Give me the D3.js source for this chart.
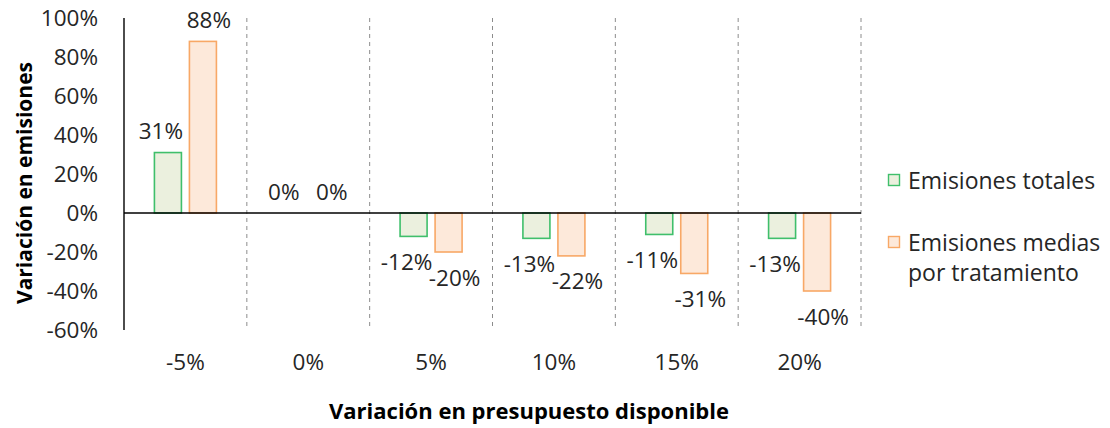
<!DOCTYPE html>
<html>
<head>
<meta charset="utf-8">
<script src="https://cdn.jsdelivr.net/npm/d3@7/dist/d3.min.js"></script>
<style>
  html, body { margin: 0; padding: 0; background: #fff; }
  svg { display: block; font-family: "Open Sans", "Noto Sans", sans-serif; }
</style>
</head>
<body>
<svg id="chart" width="1110" height="428"></svg>
<script>
// Budget variation scenarios (x categories)
const categories = ["-5%", "0%", "5%", "10%", "15%", "20%"];
// Change in total emissions
const emisionesTotales = [0.31, 0.00, -0.12, -0.13, -0.11, -0.13];
// Change in mean emissions per treatment
const emisionesMedias = [0.88, 0.00, -0.20, -0.22, -0.31, -0.40];
const seriesNames = ["Emisiones totales", "Emisiones medias por tratamiento"];
const yTicks = [1.0, 0.8, 0.6, 0.4, 0.2, 0.0, -0.2, -0.4, -0.6];

const svg = d3.select("#chart");
const plot = { left: 124, right: 861, top: 18, bottom: 330 };

const x = d3.scaleBand().domain(categories).range([plot.left, plot.right]);
const y = d3.scaleLinear().domain([-0.6, 1.0]).range([plot.bottom, plot.top]);

const barW = 28, gap = 7;
const series = [
  { name: seriesNames[0], values: emisionesTotales, stroke: "#3fbf6b", fill: "#ebf0de", offset: -(barW + gap) / 2, dx: -7 },
  { name: seriesNames[1], values: emisionesMedias, stroke: "#f8a866", fill: "#fde9da", offset: (barW + gap) / 2, dx: 6 }
];

// percent with a plain hyphen for negatives
const fmt = v => `${Math.round(v * 100)}%`;
const textColor = "#262626";
const numSize = 22.5;
const wordSize = 23;

// category separators
svg.append("g").selectAll("line")
  .data(categories)
  .join("line")
  .attr("x1", d => x(d) + x.bandwidth())
  .attr("x2", d => x(d) + x.bandwidth())
  .attr("y1", plot.top)
  .attr("y2", plot.bottom)
  .attr("stroke", "#8c8c8c")
  .attr("stroke-width", 1)
  .attr("stroke-dasharray", "4,4");

// bars
series.forEach(s => {
  svg.append("g").selectAll("rect")
    .data(categories.map((c, i) => ({ c, v: s.values[i] })).filter(d => d.v !== 0))
    .join("rect")
    .attr("x", d => x(d.c) + x.bandwidth() / 2 + s.offset - barW / 2 + 0.5)
    .attr("y", d => Math.min(y(d.v), y(0)))
    .attr("width", barW - 1)
    .attr("height", d => Math.abs(y(d.v) - y(0)))
    .attr("fill", s.fill)
    .attr("stroke", s.stroke)
    .attr("stroke-width", 1.6);
});

// zero line and y axis line
svg.append("line")
  .attr("x1", plot.left).attr("x2", plot.right)
  .attr("y1", y(0)).attr("y2", y(0))
  .attr("stroke", "#000").attr("stroke-width", 1.4);
svg.append("line")
  .attr("x1", plot.left).attr("x2", plot.left)
  .attr("y1", plot.top).attr("y2", plot.bottom)
  .attr("stroke", "#000").attr("stroke-width", 1.4);

// value labels
series.forEach(s => {
  svg.append("g").selectAll("text")
    .data(categories.map((c, i) => ({ c, v: s.values[i] })))
    .join("text")
    .attr("x", d => x(d.c) + x.bandwidth() / 2 + s.offset + s.dx)
    .attr("y", d => d.v >= 0 ? y(d.v) - 22 : y(d.v) + 25)
    .attr("text-anchor", "middle")
    .attr("dominant-baseline", "central")
    .attr("font-size", numSize)
    .attr("fill", textColor)
    .text(d => fmt(d.v));
});

// y tick labels
const yAxis = d3.axisLeft(y).tickValues(yTicks).tickFormat(fmt).tickSize(0).tickPadding(26);
const gy = svg.append("g").attr("transform", `translate(${plot.left},0)`).call(yAxis);
gy.select(".domain").remove();
gy.selectAll("text").attr("font-size", numSize).attr("fill", textColor).attr("font-family", "'Open Sans', sans-serif");

// x tick labels
const xAxis = d3.axisBottom(x).tickSize(0).tickPadding(0);
const gx = svg.append("g").attr("transform", `translate(0,${plot.bottom + 24})`).call(xAxis);
gx.select(".domain").remove();
gx.selectAll("text").attr("font-size", numSize).attr("fill", textColor).attr("font-family", "'Open Sans', sans-serif");

// axis titles
svg.append("text")
  .attr("transform", `translate(32,183) rotate(-90)`)
  .attr("text-anchor", "middle")
  .attr("font-size", 21).attr("font-weight", "bold").attr("fill", "#000")
  .text("Variación en emisiones");
svg.append("text")
  .attr("x", 529).attr("y", 419)
  .attr("text-anchor", "middle")
  .attr("font-size", 22).attr("font-weight", "bold").attr("fill", "#000")
  .text("Variación en presupuesto disponible");

// legend
const legend = svg.append("g");
const legendRows = [
  { s: series[0], lines: ["Emisiones totales"], y: 180 },
  { s: series[1], lines: ["Emisiones medias", "por tratamiento"], y: 242 }
];
legendRows.forEach(r => {
  legend.append("rect")
    .attr("x", 888.5).attr("y", r.y - 5.5)
    .attr("width", 11).attr("height", 11)
    .attr("fill", r.s.fill).attr("stroke", r.s.stroke).attr("stroke-width", 1.4);
  r.lines.forEach((t, i) => {
    legend.append("text")
      .attr("x", 908).attr("y", r.y + i * 30)
      .attr("dominant-baseline", "central")
      .attr("font-size", wordSize).attr("fill", textColor)
      .text(t);
  });
});
</script>
</body>
</html>
